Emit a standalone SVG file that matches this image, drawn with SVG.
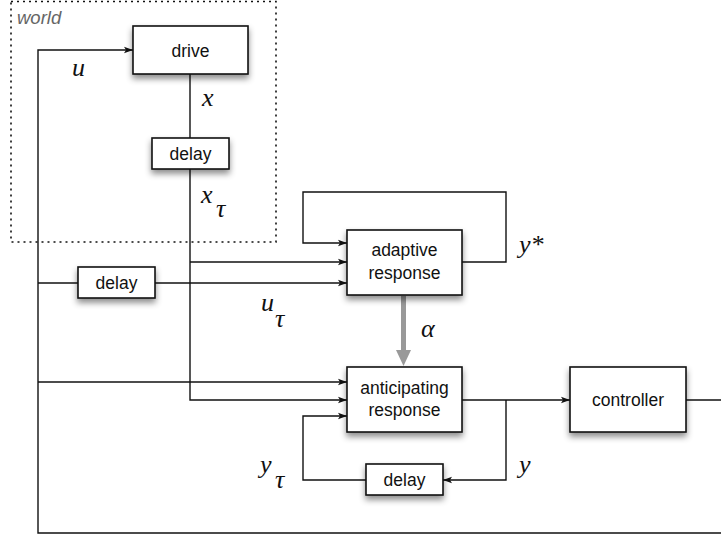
<svg xmlns="http://www.w3.org/2000/svg" width="721" height="538" viewBox="0 0 721 538">
<defs>
<filter id="sh" x="-20%" y="-20%" width="140%" height="160%">
<feDropShadow dx="0" dy="4" stdDeviation="3" flood-color="#000" flood-opacity="0.45"/>
</filter>
<marker id="ar" markerUnits="userSpaceOnUse" markerWidth="10" markerHeight="8" refX="9" refY="4" orient="auto">
<path d="M0,0.8 L9,4 L0,7.2 L2,4 z" fill="#111"/>
</marker>
</defs>
<style>
.box{fill:#fff;stroke:#111;stroke-width:1.6;filter:url(#sh)}
.lbl{font-family:"Liberation Sans",Arial,sans-serif;font-size:17.5px;fill:#111;text-anchor:middle}
.ln{fill:none;stroke:#111;stroke-width:1.4}
.m{font-family:"Liberation Serif","Times New Roman",serif;font-style:italic;font-size:26px;fill:#111}
</style>
<rect x="11" y="1.5" width="265" height="240.5" fill="none" stroke="#111" stroke-width="1.6" stroke-dasharray="2,4"/>
<text x="17" y="24" font-family="Liberation Sans,Arial,sans-serif" font-style="italic" font-size="18.5" fill="#666">world</text>
<g id="connectors">
<path class="ln" d="M721,533 H38 V50 H133" marker-end="url(#ar)"/>
<path class="ln" d="M686,400 H721"/>
<path class="ln" d="M190,74 V138"/>
<path class="ln" d="M190,169 V400 H347" marker-end="url(#ar)"/>
<path class="ln" d="M190,262 H347" marker-end="url(#ar)"/>
<path class="ln" d="M38,283 H78"/>
<path class="ln" d="M155,283 H347" marker-end="url(#ar)"/>
<path class="ln" d="M38,382 H347" marker-end="url(#ar)"/>
<path class="ln" d="M462,262 H506 V192 H303 V243 H347" marker-end="url(#ar)"/>
<path class="ln" d="M462,400 H570" marker-end="url(#ar)"/>
<path class="ln" d="M506,400 V480 H443" marker-end="url(#ar)"/>
<path class="ln" d="M366,480 H303 V416 H347" marker-end="url(#ar)"/>
<path d="M401,296 H406 V350 H411 L403.5,366 L396,350 H401 z" fill="#999"/>
</g>
<g id="drive"><rect class="box" x="133" y="26" width="115" height="48"/><text class="lbl" x="190.5" y="56.5">drive</text></g>
<g id="delay-x"><rect class="box" x="152" y="138" width="77" height="31"/><text class="lbl" x="190.5" y="159.5">delay</text></g>
<g id="delay-u"><rect class="box" x="78" y="267" width="77" height="31"/><text class="lbl" x="116.5" y="288.5">delay</text></g>
<g id="adaptive"><rect class="box" x="347" y="230" width="115" height="65"/><text class="lbl" x="404.5" y="256">adaptive</text><text class="lbl" x="404.5" y="279">response</text></g>
<g id="anticipating"><rect class="box" x="347" y="367" width="115" height="65"/><text class="lbl" x="404.5" y="394">anticipating</text><text class="lbl" x="404.5" y="416">response</text></g>
<g id="delay-y"><rect class="box" x="366" y="464" width="77" height="31"/><text class="lbl" x="404.5" y="485.5">delay</text></g>
<g id="controller"><rect class="box" x="570" y="367" width="116" height="65"/><text class="lbl" x="628" y="405.5">controller</text></g>
<g id="labels">
<text class="m" x="72" y="76">u</text>
<text class="m" x="202" y="106">x</text>
<text class="m" x="201" y="203">x</text><text class="m" x="216" y="217">τ</text>
<text class="m" x="261" y="311">u</text><text class="m" x="275" y="327">τ</text>
<text class="m" x="421" y="337">α</text>
<text class="m" x="519" y="253">y*</text>
<text class="m" x="519" y="473">y</text>
<text class="m" x="260" y="473">y</text><text class="m" x="275" y="488">τ</text>
</g>
</svg>
